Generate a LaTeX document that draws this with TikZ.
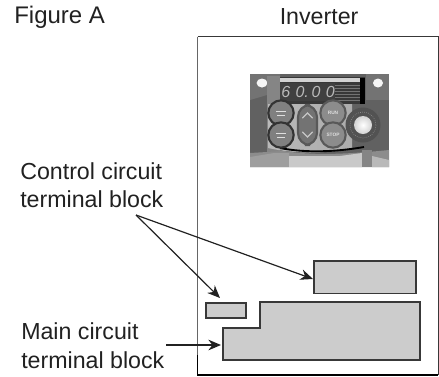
\documentclass[tikz,border=0pt]{standalone}
\usepackage{fontspec}
\setmainfont{Liberation Sans}
\usetikzlibrary{arrows.meta}
\definecolor{inkc}{gray}{0.13}
\definecolor{edgec}{gray}{0.22}
\definecolor{blockc}{gray}{0.8}
\tikzset{
  px/.style={x=0.75pt,y=-0.75pt},
  label/.style={anchor=west,inner sep=0pt,text=inkc,font=\fontsize{17.4}{21}\selectfont,align=left},
  block/.style={draw=edgec,fill=blockc,line width=1.2pt},
  pointer/.style={draw=inkc,line width=0.9pt,-{Stealth[length=9.5pt,width=8pt]}},
  button/.style={draw=black!80,line width=1.6pt,fill=black!50},
  btext/.style={font=\fontsize{3.6}{4}\selectfont\bfseries,text=gray!25,inner sep=0pt},
}
\begin{document}
\begin{tikzpicture}[px]
\useasboundingbox (0,0) rectangle (439,376);
% housing
\draw[edgec,line width=1.1pt] (197.5,36.5) -- (438.3,36.5) -- (438.3,375);
\draw[black!60,line width=1.2pt] (197.5,36.5) -- (197.5,355);
\draw[black,line width=0.8pt] (197.5,355) -- (197.5,375) -- (438.3,375);
% operation panel
\fill[black!62] (250,74) rectangle (389,167);
\fill[black!55] (250,74) -- (280,74) -- (280,92) -- (267,95) -- (250,100) -- cycle;
\fill[black!55] (366,74) -- (389,74) -- (389,100) -- (366,100) -- cycle;
\fill[white!96!black] (262,83) ellipse (5.5 and 4.5);
\fill[white!96!black] (378,83) ellipse (5 and 4.5);
\fill[black!48] (267,76) rectangle (280,152);
\fill[black!78] (280,77) rectangle (365,104);
\fill[gray!35] (280,78) rectangle (360,82);
\fill[black!75] (280,83) rectangle (335,101);
\foreach \yy in {85,88,...,100} \draw[black!55,line width=0.5pt] (335,\yy) -- (360,\yy);
\fill[black] (360,78) rectangle (365,104);
\shade[left color=gray!55,middle color=white!94!black,right color=gray!65]
  (268,104) -- (352,104) -- (352,148) .. controls (325,154) and (295,154) .. (268,148) -- cycle;
\draw[black,line width=1.4pt] (280,148) .. controls (305,153) and (335,152) .. (364,147);
\fill[black!45] (250,153) -- (284,151) .. controls (310,155) and (340,155) .. (389,150) -- (389,167) -- (250,167) -- cycle;
\fill[black!38] (250,167) -- (250,157) -- (274,153) -- (289,153) -- (289,167) -- cycle;
\fill[gray!42] (289,167) -- (289,156) -- (340,156) -- (362,153) -- (362,167) -- cycle;
\fill[black!48] (362,150) rectangle (372,167);
\fill[gray!55] (372,167) -- (372,156) -- (389,160) -- (389,167) -- cycle;
% digits
\node[inner sep=0pt,text=gray!55,font=\fontsize{12}{13}\selectfont\itshape] (digits) at (308,92) {6\,\,0.\,0\,\,0};
% buttons
\node[circle,button,minimum size=19pt,inner sep=0pt] (b1) at (281,113) {};
\node[circle,button,minimum size=19pt,inner sep=0pt] (b2) at (281,135) {};
\foreach \c in {b1,b2} {
  \draw[gray!25,line width=0.6pt] ([shift={(-5,-2)}]\c.center) -- ([shift={(5,-2)}]\c.center);
  \draw[gray!25,line width=0.6pt] ([shift={(-4,2)}]\c.center) -- ([shift={(4,2)}]\c.center);
}
\draw[button,draw=black!65,fill=black!55,rounded corners=9pt] (298,105) rectangle (317,145);
\draw[gray!45,line width=0.9pt,line cap=round] (302.5,118) -- (307.5,113) -- (312.5,118);
\draw[gray!45,line width=0.9pt,line cap=round] (302.5,132) -- (307.5,137) -- (312.5,132);
\node[circle,button,draw=black!65,fill=black!45,minimum size=19pt,inner sep=0pt,btext] (run) at (333,113) {RUN};
\node[circle,button,draw=black!65,fill=black!45,minimum size=19pt,inner sep=0pt,btext] (stop) at (333,135) {STOP};
% dial
\fill[black!68] (363,125) circle (17.5);
\draw[black!45,line width=0.5pt,densely dotted] (363,125) circle (13);
\shade[inner color=white,outer color=gray!35,shading=radial] (363,125) circle (9);
% terminal blocks
\node[block,anchor=north west,minimum width=76.5pt,minimum height=24.5pt,inner sep=0pt] (ctrlA) at (313,260) {};
\node[block,anchor=north west,minimum width=30pt,minimum height=11.5pt,inner sep=0pt] (ctrlB) at (205,302) {};
\coordinate (m1) at (260,302); \coordinate (m2) at (420,302); \coordinate (m3) at (420,360);
\coordinate (m4) at (223,360); \coordinate (m5) at (223,328); \coordinate (m6) at (260,328);
\draw[block,line join=miter] (m1) -- (m2) -- (m3) -- (m4) -- (m5) -- (m6) -- cycle;
% labels
\node[label,font=\fontsize{18}{21}\selectfont] (figa) at (14,17) {Figure A};
\node[label] (inv) at (279.5,17) {Inverter};
\node[label] (cc1) at (20,171) {Control circuit};
\node[label] (cc2) at (20,199) {terminal block};
\node[label] (mc1) at (21,331) {Main circuit};
\node[label] (mc2) at (21,360) {terminal block};
% connectors
\coordinate (ctail) at (136,215);
\coordinate (chead) at (220,298);
\coordinate (ahead) at (313,279);
\coordinate (mtail) at (166,345);
\coordinate (mhead) at (221,345);
\draw[pointer] (ctail) -- (chead);
\draw[pointer] (ctail) -- (ahead);
\draw[pointer] (mtail) -- (mhead);
\end{tikzpicture}
\end{document}
